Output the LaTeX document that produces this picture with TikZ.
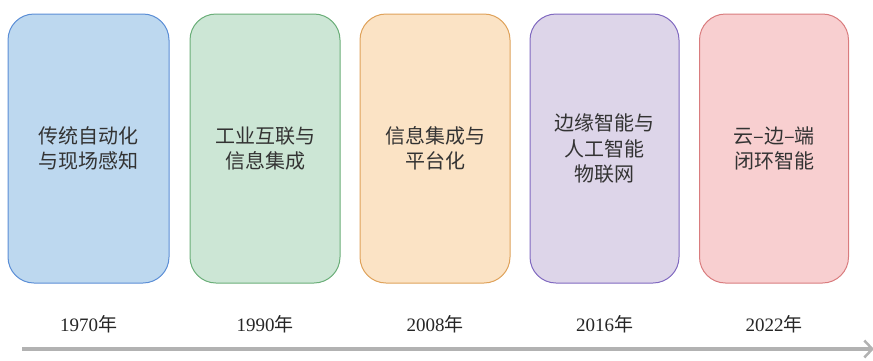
\documentclass[tikz,border=0pt]{standalone}
\usepackage{fontspec}
\setmainfont{Liberation Serif}
\newfontfamily\cjk{Noto Sans CJK SC}
\usetikzlibrary{arrows.meta}
\definecolor{f1}{HTML}{BDD8EF}\definecolor{d1}{HTML}{5B8ED6}
\definecolor{f2}{HTML}{CCE6D5}\definecolor{d2}{HTML}{6AAE78}
\definecolor{f3}{HTML}{FBE3C5}\definecolor{d3}{HTML}{DFA25A}
\definecolor{f4}{HTML}{DDD5E9}\definecolor{d4}{HTML}{8069C0}
\definecolor{f5}{HTML}{F8CFD0}\definecolor{d5}{HTML}{D97C7E}
\definecolor{axis}{HTML}{B2B2B2}
\begin{document}
\begin{tikzpicture}[x=1pt,y=-1pt,
  era/.style={rounded corners=26pt,line width=1pt,minimum height=269pt,
    font=\cjk\fontsize{20}{25.5}\selectfont,align=center,text=black!80,inner sep=0pt},
  yr/.style={font=\fontsize{19}{20}\selectfont,text=black!85}]
\useasboundingbox (0,0) rectangle (873,360);
\node[era,fill=f1,draw=d1,minimum width=161pt] (b1) at (88.5,148.5) {传统自动化\\与现场感知};
\node[era,fill=f2,draw=d2,minimum width=150pt] (b2) at (265,148.5) {工业互联与\\信息集成};
\node[era,fill=f3,draw=d3,minimum width=150pt] (b3) at (435,148.5) {信息集成与\\平台化};
\node[era,fill=f4,draw=d4,minimum width=149pt] (b4) at (604.5,148.5) {边缘智能与\\人工智能\\物联网};
\node[era,fill=f5,draw=d5,minimum width=149pt] (b5) at (774,148.5) {云–边–端\\闭环智能};
\node[yr] (y1) at (88.5,324) {1970{\cjk 年}};
\node[yr] (y2) at (265,324) {1990{\cjk 年}};
\node[yr] (y3) at (435,324) {2008{\cjk 年}};
\node[yr] (y4) at (604.5,324) {2016{\cjk 年}};
\node[yr] (y5) at (774,324) {2022{\cjk 年}};
\coordinate (a0) at (22,349);
\coordinate (a1) at (874,349);
\draw[axis,line width=4pt,-{Straight Barb[length=8pt,width=17pt,line width=2.5pt]}] (a0) -- (a1);
\end{tikzpicture}
\end{document}
